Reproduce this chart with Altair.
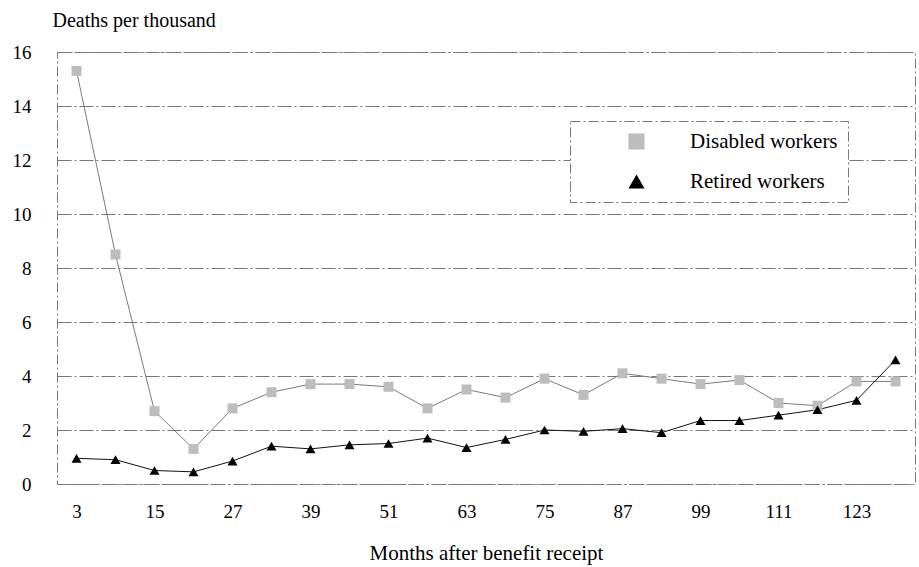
import altair as alt
import pandas as pd

months = [3, 9, 15, 21, 27, 33, 39, 45, 51, 57, 63, 69, 75, 81, 87, 93, 99, 105, 111, 117, 123, 129]
disabled = [15.3, 8.5, 2.7, 1.3, 2.8, 3.4, 3.7, 3.7, 3.6, 2.8, 3.5, 3.2, 3.9, 3.3, 4.1, 3.9, 3.7, 3.85, 3.0, 2.9, 3.8, 3.8]
retired = [0.95, 0.9, 0.5, 0.45, 0.85, 1.4, 1.3, 1.45, 1.5, 1.7, 1.35, 1.65, 2.0, 1.95, 2.05, 1.9, 2.35, 2.35, 2.55, 2.75, 3.1, 4.6]
series_names = ["Disabled workers", "Retired workers"]
x_ticks = [3, 15, 27, 39, 51, 63, 75, 87, 99, 111, 123]
y_ticks = [0, 2, 4, 6, 8, 10, 12, 14, 16]

rows = []
for m, d, r in zip(months, disabled, retired):
    rows.append({"month": m, "series": series_names[0], "value": d})
    rows.append({"month": m, "series": series_names[1], "value": r})
df = pd.DataFrame(rows)

FONT = "Liberation Serif"

x = alt.X(
    "month:Q",
    scale=alt.Scale(domain=[0, 132], nice=False, zero=False),
    axis=alt.Axis(
        values=x_ticks, title="Months after benefit receipt", grid=False, ticks=False,
        domain=False, labelFontSize=19, labelPadding=18, titleFontSize=21, titlePadding=21,
        labelFont=FONT, titleFont=FONT, labelColor="#000", titleColor="#000",
        titleFontWeight="normal", labelFlush=False,
    ),
)
y = alt.Y(
    "value:Q",
    scale=alt.Scale(domain=[0, 16], nice=False),
    axis=alt.Axis(
        values=y_ticks, title="Deaths per thousand", titleAngle=0, titleX=-5, titleY=-32,
        titleAlign="left", titleBaseline="middle", grid=True, gridDash=[14, 3, 2, 3],
        gridColor="#777", gridWidth=1, ticks=False, domain=False, labelFontSize=19,
        labelPadding=26, labelFont=FONT, titleFont=FONT, labelColor="#000",
        titleColor="#000", titleFontWeight="normal", titleFontSize=20,
    ),
)

legend = alt.Legend(
    title=None, orient="none", legendX=513, legendY=69, labelFont=FONT,
    labelFontSize=21, labelColor="#000", symbolSize=260, symbolOffset=46,
    labelOffset=43, padding=10, rowPadding=18, strokeColor="#777", fillColor="white",
    symbolStrokeWidth=0,
)

lines = alt.Chart(df).mark_line(strokeWidth=1).encode(
    x=x, y=y, detail="series:N",
    color=alt.condition("datum.series == 'Disabled workers'", alt.value("#7a7a7a"), alt.value("#111111")),
)

points = alt.Chart(df).mark_point(filled=True, opacity=1, size=100).encode(
    x=x, y=y,
    color=alt.Color("series:N", scale=alt.Scale(domain=series_names, range=["#bdbdbd", "#000000"]), legend=legend),
    shape=alt.Shape("series:N", scale=alt.Scale(domain=series_names, range=["square", "triangle-up"]), legend=legend),
)

chart = alt.layer(lines, points).properties(
    width=858, height=432,
    autosize=alt.AutoSizeParams(type="none"),
    padding={"left": 57, "top": 52, "right": 4, "bottom": 83},
    background="white",
).configure_view(
    stroke="#777", strokeDash=[10, 3, 2, 3], strokeWidth=1,
).configure_legend(strokeDash=[10, 3, 2, 3])

chart.save("out.html", embed_options={"renderer": "svg", "actions": False})
